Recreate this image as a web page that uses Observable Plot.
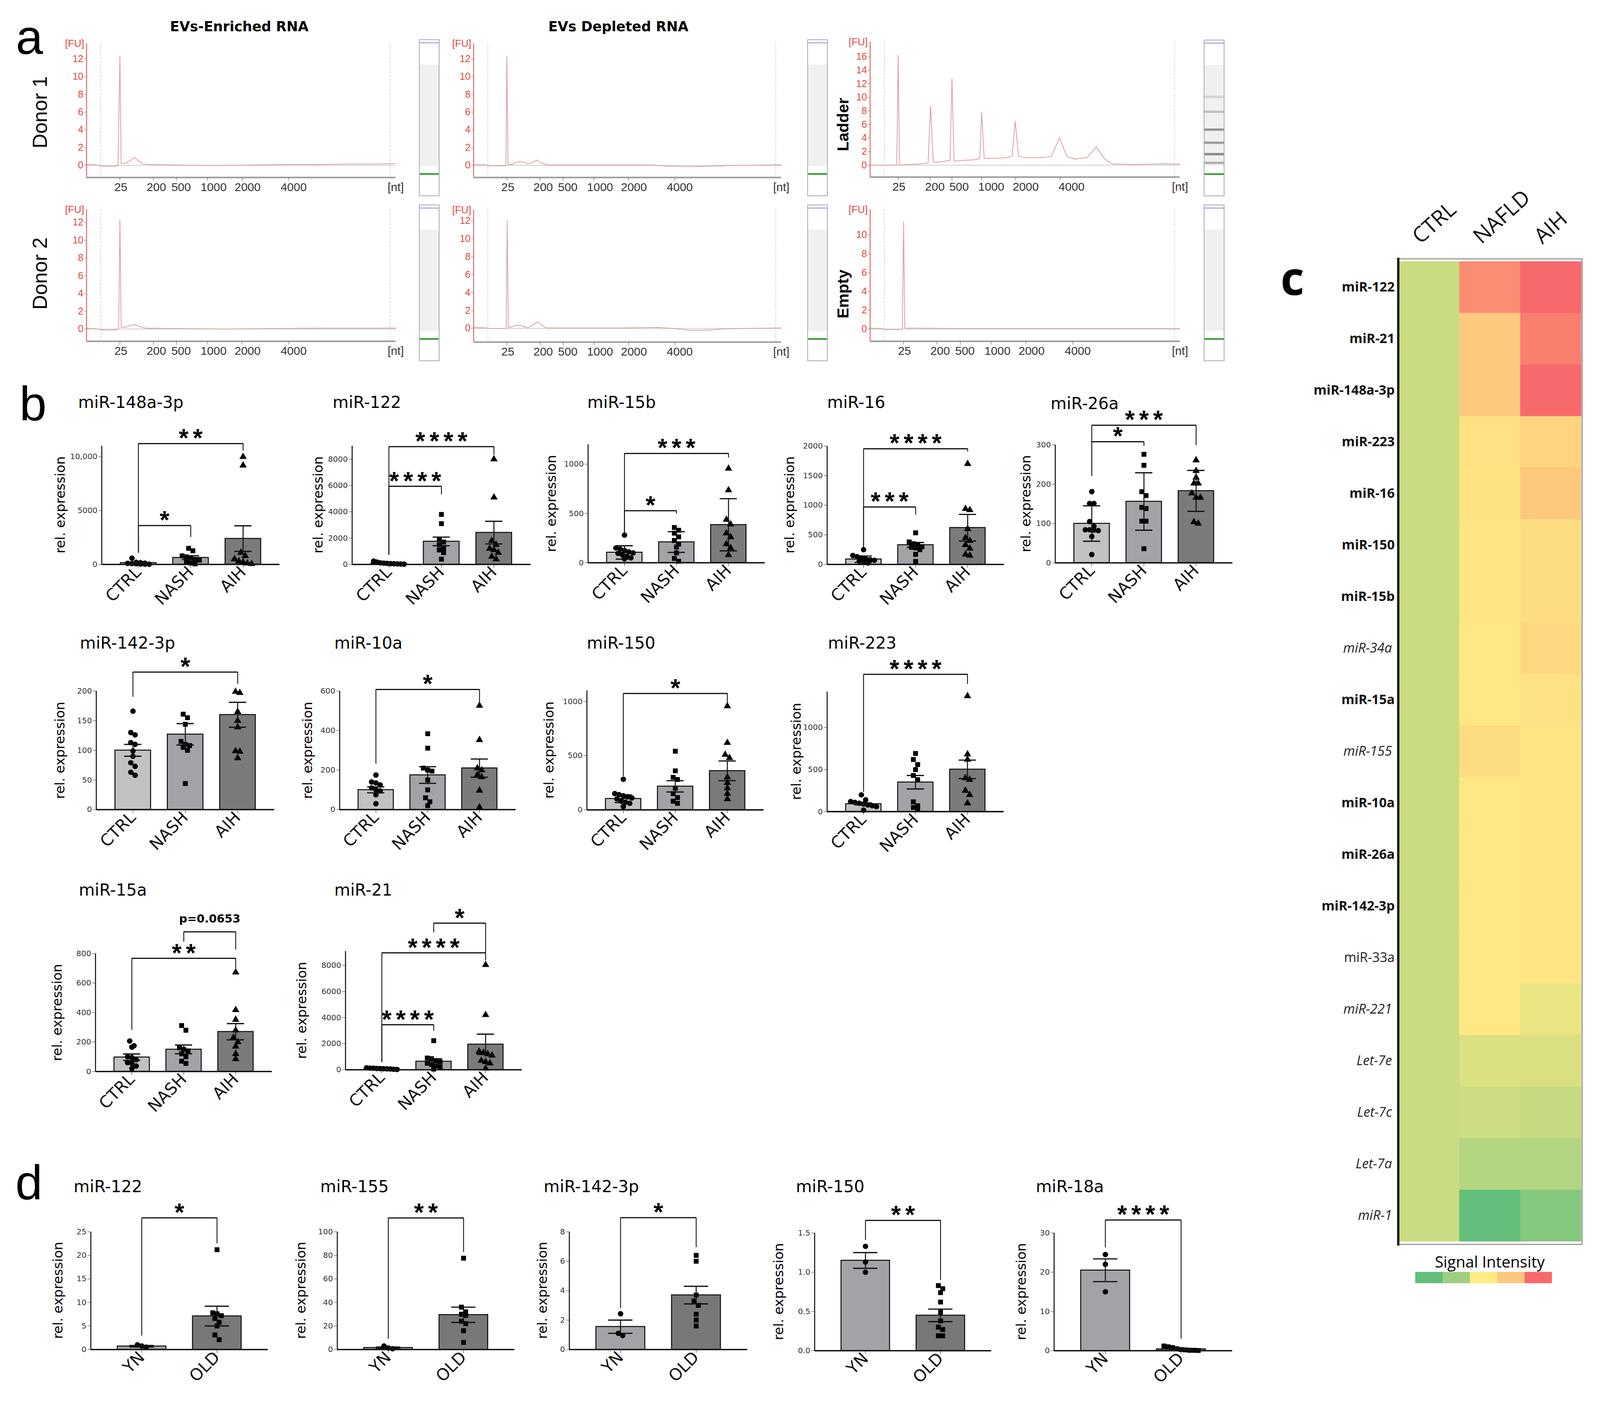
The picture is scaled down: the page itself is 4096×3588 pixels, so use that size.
<!DOCTYPE html>
<html><head><meta charset="utf-8">
<script src="https://cdn.jsdelivr.net/npm/d3@7"></script>
<script src="https://cdn.jsdelivr.net/npm/@observablehq/plot@0.6"></script>
<style>
html,body{margin:0;padding:0;background:#fff;}
#fig{position:relative;width:4096px;height:3588px;overflow:hidden;background:#fff;}
</style></head><body><div id="fig"></div>
<script>
// ===================== DATA: panel a (electropherograms, migration units 0-100 / FU) =====================
const epTickLabels = ["25", "200", "500", "1000", "2000", "4000"];
const epTicksSample = [10.8, 21.6, 29.1, 39.1, 50.3, 65.4];
const epLabelPosSample = [11.1, 22.6, 30.6, 41.1, 52.1, 67.0];
const epTicksLadder = [9.05, 19.5, 26.4, 36.0, 46.8, 61.3];
const epLabelPosLadder = [9.3, 20.9, 28.7, 39.1, 50.2, 65.0];
const epDashes = [4.6, 98.2];
const fuTicks12 = [0, 2, 4, 6, 8, 10, 12];
const fuTicks16 = [0, 2, 4, 6, 8, 10, 12, 14, 16];
const fuTicks10 = [0, 2, 4, 6, 8, 10];
const traceEnrichedD1 = [[0,0.1],[2,0.1],[4,0.0],[5,-0.1],[9,-0.1],[10.2,-0.05],[10.8,12.3],[11.2,0.2],[12.5,0.25],[14,0.5],[15.5,0.9],[16.8,0.5],[18.3,0.15],[21,0.1],[28,0.05],[35,0],[45,0],[55,0.05],[65,0.1],[75,0.1],[85,0.15],[95,0.15],[100,0.2]];
const traceDepletedD1 = [[0,0.1],[4,0.05],[5,-0.05],[10,-0.05],[10.5,0],[10.8,12.3],[11.2,0.1],[12.5,0.1],[13.5,0.3],[15,0.4],[16.5,0.35],[17.5,0.15],[19,0.3],[20.5,0.6],[22,0.25],[24,0.05],[35,0.05],[50,0.05],[58,0.05],[63,-0.1],[70,-0.15],[78,-0.1],[85,0],[100,0.05]];
const traceLadder = [[0,0],[8.6,0],[9.05,16.2],[9.5,0],[12,0.1],[15,0.15],[18.7,0.3],[19.5,8.7],[20.4,0.4],[23,0.5],[25.8,0.7],[26.4,12.8],[27.1,0.6],[30,0.7],[34,0.8],[35.4,1.0],[36,7.8],[36.8,1.0],[40,1.0],[44,1.1],[45.8,1.3],[46.8,6.5],[47.9,1.3],[50,1.1],[55,1.1],[58.5,1.3],[61.1,4.05],[63.5,1.3],[66,0.9],[70,1.1],[73,2.7],[75.5,1.0],[78,0.2],[85,0.1],[90,0.15],[95,0.2],[100,0.15]];
const traceEnrichedD2 = [[0,0.1],[4,0],[5,-0.1],[9.5,-0.1],[10.4,0],[10.8,12.3],[11.2,0.2],[12.5,0.2],[14,0.4],[15.5,0.5],[17,0.3],[19,0.1],[30,0.05],[45,0],[60,0.05],[75,0.1],[90,0.1],[100,0.1]];
const traceDepletedD2 = [[0,0.1],[4,0.05],[5,-0.02],[10.3,-0.02],[10.6,0],[10.9,12.0],[11.3,0.1],[12.5,0.2],[14,0.35],[15.5,0.3],[17.5,0.05],[19,0.35],[20.9,0.72],[22.5,0.3],[23.6,0.05],[35,0.05],[50,0.05],[60,0.1],[66,-0.05],[70,-0.2],[76,-0.2],[82,-0.05],[90,0],[100,0.05]];
const traceEmpty = [[0,0.1],[4,0.05],[5,-0.05],[9.5,-0.05],[10.4,0],[10.8,11.4],[11.2,0.1],[15,0.1],[30,0.05],[50,0.05],[70,0.05],[90,0.05],[100,0.05]];
// gel lanes (position 0-100 top to bottom, intensity 0-1)
const ladderBands = [[36.5,0.22],[46,0.32],[57.5,0.55],[65.9,0.5],[73.2,0.6],[78.8,0.4]];
const laneSmear = [[16, 81]];
const laneMarkerLow = [86];
const laneMarkerTop = [2];

// ===================== DATA: panel b (rel. expression) =====================
const groupsB = ["CTRL", "NASH", "AIH"];
const groupsD = ["YN", "OLD"];

const b148_mean = [150, 630, 2400];
const b148_sem = [60, 170, 1190];
const b148_CTRL = [580, 200, 150, 120, 100, 80, 60, 40, 30, 20];
const b148_NASH = [1500, 1270, 800, 700, 600, 450, 400, 270, 130, 50];
const b148_AIH = [10000, 9200, 1100, 800, 500, 300, 200, 100, 50];
const b148_sig = [[0, 1, 3610, 1070, 2540, "*"], [0, 2, 11230, 1070, 10560, "**"]];
const b148_ticks = [0, 5000, 10000];
const b148_tickLabels = ["0", "5000", "10,000"];

const b122_mean = [80, 1750, 2420];
const b122_sem = [20, 330, 860];
const b122_CTRL = [250, 180, 120, 100, 80, 60, 50, 40, 30, 20];
const b122_NASH = [3800, 3100, 1900, 1700, 1500, 1200, 1100, 900, 400];
const b122_AIH = [8000, 5100, 1800, 1500, 1200, 1100, 900, 600, 400];
const b122_sig = [[0, 1, 5940, 712, 5315, "****"], [0, 2, 8953, 712, 8329, "****"]];
const b122_ticks = [0, 2000, 4000, 6000, 8000];

const b15b_mean = [105, 210, 385];
const b15b_sem = [68, 105, 265];
const b15b_CTRL = [280, 150, 140, 125, 110, 100, 95, 80, 65, 50, 40];
const b15b_NASH = [358, 330, 300, 263, 226, 190, 160, 100, 44, 15];
const b15b_AIH = [956, 737, 438, 390, 300, 260, 190, 150, 80];
const b15b_sig = [[0, 1, 528, 300, 496, "*"], [0, 2, 1109, 300, 1066, "***"]];
const b15b_ticks = [0, 500, 1000];

const b16_mean = [88, 330, 620];
const b16_sem = [54, 40, 225];
const b16_CTRL = [250, 150, 130, 110, 95, 80, 70, 55, 40, 25];
const b16_NASH = [534, 380, 350, 320, 300, 290, 280, 250, 170, 50];
const b16_AIH = [1700, 940, 920, 600, 450, 400, 330, 270, 170, 150];
const b16_sig = [[0, 1, 971, 267, 837, "***"], [0, 2, 1954, 267, 1905, "****"]];
const b16_ticks = [0, 500, 1000, 1500, 2000];

const b26a_mean = [100, 156, 183];
const b26a_sem = [45, 73, 52];
const b26a_CTRL = [181, 151, 151, 105, 93, 84, 84, 83, 82, 67, 21];
const b26a_NASH = [276, 248, 181, 171, 141, 138, 106, 106, 36];
const b26a_AIH = [261, 234, 217, 202, 202, 177, 166, 166, 104, 100];
const b26a_sig = [[0, 1, 308, 221, 297, "*"], [0, 2, 350, 221, 299, "***"]];
const b26a_ticks = [0, 100, 200, 300];

const b142_mean = [100, 127, 160];
const b142_sem = [10, 18, 21];
const b142_CTRL = [166, 130, 126, 113, 110, 99, 90, 79, 73, 63, 58];
const b142_NASH = [161, 155, 144, 115, 110, 108, 105, 100, 44];
const b142_AIH = [199, 197, 165, 150, 139, 99, 98, 87];
const b142_sig = [[0, 2, 232, 190, 212, "*"]];
const b142_ticks = [0, 50, 100, 150, 200];

const b10a_mean = [100, 175, 210];
const b10a_sem = [15, 42, 46];
const b10a_CTRL = [175, 140, 135, 125, 110, 100, 95, 75, 30];
const b10a_NASH = [384, 311, 210, 200, 195, 150, 100, 60, 40, 20];
const b10a_AIH = [526, 353, 210, 200, 175, 165, 97, 12];
const b10a_sig = [[0, 2, 608, 232, 537, "*"]];
const b10a_ticks = [0, 200, 400, 600];

const b150_mean = [103, 217, 360];
const b150_sem = [36, 52, 91];
const b150_CTRL = [282, 150, 140, 130, 120, 110, 100, 80, 70, 60, 30];
const b150_NASH = [541, 360, 300, 280, 200, 150, 113, 80, 60];
const b150_AIH = [957, 619, 509, 480, 300, 250, 200, 150, 100];
const b150_sig = [[0, 2, 1074, 308, 983, "*"]];
const b150_ticks = [0, 500, 1000];

const b223_mean = [92, 350, 503];
const b223_sem = [12, 80, 110];
const b223_CTRL = [200, 140, 120, 110, 100, 90, 80, 70, 60, 17];
const b223_NASH = [692, 620, 560, 500, 430, 380, 117, 70, 50, 30];
const b223_AIH = [1375, 683, 620, 400, 380, 250, 200, 100];
const b223_sig = [[0, 2, 1633, 233, 1517, "****"]];
const b223_ticks = [0, 500, 1000];

const b15a_mean = [97, 150, 270];
const b15a_sem = [22, 30, 55];
const b15a_CTRL = [207, 175, 165, 100, 95, 80, 60, 55, 37, 20];
const b15a_NASH = [312, 280, 160, 150, 140, 120, 100, 70, 55];
const b15a_AIH = [673, 418, 352, 280, 230, 200, 170, 120, 85];
const b15a_sig = [[0, 2, 768, 281, 700, "**"], [1, 2, 948, 880, 826, "p=0.0653"]];
const b15a_ticks = [0, 200, 400, 600, 800];

const b21_mean = [80, 640, 1950];
const b21_sem = [20, 200, 780];
const b21_CTRL = [150, 130, 120, 100, 90, 80, 70, 60, 40, 20];
const b21_NASH = [2228, 900, 850, 700, 600, 500, 400, 300, 200, 50];
const b21_AIH = [8036, 4204, 1400, 1300, 1200, 1100, 700, 600, 500, 100];
const b21_sig = [[0, 1, 3449, 575, 2970, "****"], [0, 2, 8958, 575, 8359, "****"], [1, 2, 11234, 10515, 8958, "*"]];
const b21_ticks = [0, 2000, 4000, 6000, 8000];

// ===================== DATA: panel d (YN vs OLD) =====================
const d122_mean = [0.7, 7.1];
const d122_sem = [0.15, 2.1];
const d122_YN = [1.0, 0.75, 0.5];
const d122_OLD = [21.2, 7.8, 7.6, 7.2, 6.6, 5.8, 5.0, 3.1, 2.1];
const d122_sig = [[0, 1, 27.97, 2.9, 22.5, "*"]];
const d122_ticks = [0, 5, 10, 15, 20, 25];

const d155_mean = [1.5, 29.5];
const d155_sem = [0.6, 6.5];
const d155_YN = [3.0, 1.3, 0.6];
const d155_OLD = [77.6, 36, 32, 30, 29, 24, 22, 16, 6];
const d155_sig = [[0, 1, 111.8, 9, 82.8, "**"]];
const d155_ticks = [0, 20, 40, 60, 80, 100];

const d142_mean = [1.55, 3.7];
const d142_sem = [0.45, 0.6];
const d142_YN = [2.43, 1.1, 0.95];
const d142_OLD = [6.4, 6.0, 3.7, 3.3, 3.0, 2.4, 2.0, 1.6];
const d142_sig = [[0, 1, 8.96, 2.8, 6.94, "*"]];
const d142_ticks = [0, 2, 4, 6, 8];

const d150_mean = [1.15, 0.45];
const d150_sem = [0.1, 0.08];
const d150_YN = [1.33, 1.13, 1.0];
const d150_OLD = [0.83, 0.79, 0.74, 0.62, 0.49, 0.38, 0.30, 0.27, 0.19, 0.19];
const d150_sig = [[0, 1, 1.66, 1.41, 0.9, "**"]];
const d150_ticks = [0, 0.5, 1, 1.5];
const d150_tickLabels = ["0.0", "0.5", "1.0", "1.5"];

const d18a_mean = [20.5, 0.4];
const d18a_sem = [2.9, 0.15];
const d18a_YN = [24.5, 22, 15];
const d18a_OLD = [1.2, 1.0, 0.8, 0.5, 0.3, 0.2, 0.1, 0.1, 0.05];
const d18a_sig = [[0, 1, 33.3, 26.3, 3.0, "****"]];
const d18a_ticks = [0, 10, 20, 30];

// ===================== DATA: panel c (heatmap, signal intensity 0..1) =====================
const hmRows = ["miR-122","miR-21","miR-148a-3p","miR-223","miR-16","miR-150","miR-15b","miR-34a","miR-15a","miR-155","miR-10a","miR-26a","miR-142-3p","miR-33a","miR-221","Let-7e","Let-7c","Let-7a","miR-1"];
const hmCols = ["CTRL", "NAFLD", "AIH"];
const hmCTRL = [0.33,0.33,0.33,0.33,0.33,0.33,0.33,0.33,0.33,0.33,0.33,0.33,0.33,0.33,0.33,0.33,0.33,0.33,0.33];
const hmNAFLD = [0.86,0.63,0.63,0.54,0.535,0.523,0.523,0.51,0.51,0.558,0.51,0.51,0.51,0.51,0.51,0.385,0.34,0.263,0.0];
const hmAIH = [1.0,0.915,1.0,0.59,0.63,0.554,0.554,0.575,0.54,0.52,0.52,0.52,0.52,0.52,0.43,0.38,0.315,0.26,0.11];
const hmLegendSteps = [0, 0.19, 0.5, 0.64, 1];

// ===================== STYLE / LAYOUT (reference px at 1568 wide) =====================
const S = 4096 / 1568;
const GP_FONT = "'DejaVu Sans', Verdana, sans-serif";
const AR_FONT = "'Liberation Sans', Arial, Helvetica, sans-serif";
const OS_FONT = "'Open Sans', 'Liberation Sans', sans-serif";
const hmBold = ["miR-122","miR-21","miR-148a-3p","miR-223","miR-16","miR-150","miR-15b","miR-15a","miR-10a","miR-26a","miR-142-3p"];
const hmItalic = ["miR-34a","miR-155","miR-221","Let-7e","Let-7c","Let-7a","miR-1"];
const hmPlain = ["miR-33a"];

const fig = document.getElementById("fig");
function put(node, left, top) {
  node.style.position = "absolute";
  node.style.left = left + "px";
  node.style.top = top + "px";
  node.style.maxWidth = "none";
  node.style.background = "transparent";
  node.style.overflow = "visible";
  fig.appendChild(node);
}
const overlay = d3.create("svg").attr("width", 4096).attr("height", 3588)
  .style("position", "absolute").style("left", "0px").style("top", "0px").style("overflow", "visible");
function txt(x, y, s, o = {}) {
  const t = overlay.append("text").attr("x", x * S).attr("y", y * S).text(s)
    .attr("font-family", o.family || AR_FONT).attr("font-size", o.size || 30)
    .attr("font-weight", o.weight || "normal").attr("font-style", o.style || "normal")
    .attr("text-anchor", o.anchor || "start").attr("fill", o.fill || "#000");
  if (o.rotate) t.attr("transform", `rotate(${o.rotate},${x * S},${y * S})`);
  if (o.baseline) t.attr("dominant-baseline", o.baseline);
  return t;
}

// ---------- electropherograms ----------
function epChart(c) {
  const mL = 70, mR = 45, mT = 50, mB = 75;
  const W = (c.R - c.L) * S, H = (c.xb - c.yt) * S;
  const lab = new Map(c.labelPos.map((t, k) => [t, epTickLabels[k]]));
  const p = Plot.plot({
    width: W + mL + mR, height: H + mT + mB,
    marginLeft: mL, marginRight: mR, marginTop: mT, marginBottom: mB,
    style: {background: "transparent", fontFamily: AR_FONT, overflow: "visible"},
    x: {domain: [0, 100]}, y: {domain: [c.fuMin, c.fuMax]},
    marks: [
      Plot.ruleX(epDashes, {stroke: "#c8c8c8", strokeWidth: 1.5, strokeDasharray: "5,4"}),
      Plot.ruleY([0], {stroke: "#cdcdcd", strokeWidth: 2}),
      Plot.line(c.trace, {stroke: "#dca0a0", strokeWidth: 2}),
      Plot.ruleX([0], {stroke: "#e04848", strokeWidth: 2}),
      Plot.ruleY([c.fuMin], {stroke: "#9c9c9c", strokeWidth: 4}),
      Plot.axisY({ticks: c.yTicks, tickSize: 6, tickPadding: 2, fontSize: 25, color: "#e04848", label: null}),
      Plot.axisX({ticks: c.xTicks, tickFormat: () => "", tickSize: 9, color: "#555", label: null}),
      Plot.axisX({ticks: c.labelPos, tickFormat: d => lab.get(d), tickSize: 0, tickPadding: 13, fontSize: 30, color: "#333", label: null}),
      Plot.text(["[FU]"], {text: d => d, frameAnchor: "top-left", textAnchor: "end", lineAnchor: "middle", dx: -6, fontSize: 26, fill: "#e04848"}),
      Plot.text(["[nt]"], {text: d => d, frameAnchor: "bottom-right", textAnchor: "middle", lineAnchor: "top", dy: 13, fontSize: 30, fill: "#333"})
    ]
  });
  put(p, c.L * S - mL, c.yt * S - mT);
}
function laneChart(c) {
  const p = Plot.plot({
    width: c.w * S, height: c.h * S, margin: 0,
    style: {background: "transparent", overflow: "visible"},
    x: {domain: [0, 1], axis: null}, y: {domain: [0, 100], reverse: true, axis: null},
    color: {type: "linear", domain: [0, 1], range: ["#ffffff", "#3a3a3a"]},
    marks: [
      Plot.rect(laneSmear, {x1: 0, x2: 1, y1: d => d[0], y2: d => d[1], fill: "#f0f0f0"}),
      Plot.ruleY(c.bands, {y: d => d[0], stroke: d => d[1], strokeWidth: 6}),
      Plot.ruleY(laneMarkerLow, {stroke: "#3c9e3c", strokeWidth: 4.5}),
      Plot.ruleY(laneMarkerTop, {stroke: "#a9b3e3", strokeWidth: 3}),
      Plot.frame({stroke: "#a8a8a8", strokeWidth: 2})
    ]
  });
  put(p, c.x * S, c.y * S);
}

const epCharts = [
  {trace: traceEnrichedD1, xTicks: epTicksSample, labelPos: epLabelPosSample, yTicks: fuTicks12, L: 84.5, R: 387.5, yt: 42.4, xb: 173.6, fuMin: -1.37, fuMax: 13.74},
  {trace: traceDepletedD1, xTicks: epTicksSample, labelPos: epLabelPosSample, yTicks: fuTicks12, L: 463.9, R: 765.4, yt: 42.4, xb: 173.6, fuMin: -1.37, fuMax: 13.74},
  {trace: traceLadder, xTicks: epTicksLadder, labelPos: epLabelPosLadder, yTicks: fuTicks16, L: 852.6, R: 1156.3, yt: 41, xb: 173.4, fuMin: -1.77, fuMax: 18.18},
  {trace: traceEnrichedD2, xTicks: epTicksSample, labelPos: epLabelPosSample, yTicks: fuTicks12, L: 84.5, R: 387.5, yt: 205, xb: 334, fuMin: -1.38, fuMax: 13.45},
  {trace: traceDepletedD2, xTicks: epTicksSample, labelPos: epLabelPosSample, yTicks: fuTicks12, L: 463.9, R: 765.4, yt: 205.4, xb: 334.8, fuMin: -1.53, fuMax: 13.2},
  {trace: traceEmpty, xTicks: epTicksSample, labelPos: epLabelPosSample, yTicks: fuTicks10, L: 852.6, R: 1156.3, yt: 205, xb: 334, fuMin: -1.3, fuMax: 12.7}
];
epCharts.forEach(epChart);
[
  {x: 410.9, y: 38.7, w: 19.4, h: 153, bands: []},
  {x: 791.3, y: 38.7, w: 19.4, h: 153, bands: []},
  {x: 1180, y: 38.9, w: 19.6, h: 152.7, bands: ladderBands},
  {x: 410.9, y: 200.6, w: 19.4, h: 152.7, bands: []},
  {x: 791.3, y: 200.6, w: 19.4, h: 152.7, bands: []},
  {x: 1180, y: 200.6, w: 19.6, h: 152.7, bands: []}
].forEach(laneChart);

// ---------- bar charts ----------
// horizontal spreading of points that share a vertical level (returns offsets in px)
function spread(vals, yPx, gap, spacing, maxWidth) {
  const order = vals.map((v, k) => k).sort((a, b) => vals[b] - vals[a]);
  const rows = [];
  for (const k of order) {
    const last = rows[rows.length - 1];
    if (last && Math.abs(yPx(vals[k]) - yPx(vals[last[0]])) <= gap) last.push(k);
    else rows.push([k]);
  }
  const off = vals.map(() => 0);
  for (const r of rows) {
    const sp = r.length > 1 ? Math.min(spacing, maxWidth / (r.length - 1)) : 0;
    r.forEach((k, j) => { off[k] = (j - (r.length - 1) / 2) * sp; });
  }
  return off;
}
function barChart(c) {
  const n = c.cats.length;
  const half = (1 - c.pi) / 2;
  const x0 = -(c.po + half), x1 = n - 1 + c.po + half;
  const mL = 150, mR = 40, mT = 200, mB = 160;
  const W = (c.R - c.L) * S, H = (c.base - c.top) * S;
  const stepPx = W / (x1 - x0);
  const yPx = d3.scaleLinear([0, c.yMax], [H, 0]);
  const groups = c.cats.map((cat, i) => ({i, cat, mean: c.means[i], sem: c.sems[i]}));
  const dots = [];
  c.pts.forEach((vals, i) => {
    const off = spread(vals, yPx, 13, 11, c.spreadMax);
    vals.forEach((v, k) => dots.push({x: i + off[k] / stepPx, v, cat: c.cats[i]}));
  });
  const capHalf = c.cap / 2 / stepPx;
  const br = c.sig.map(([a, b, lvl, la, lb, lab]) => ({a, b, lvl, la, lb, lab}));
  const starStep = 36 / stepPx;
  const stars = [];
  br.filter(d => d.lab.startsWith("*")).forEach(d => {
    const m = d.lab.length;
    for (let k = 0; k < m; k++) stars.push({x: (d.a + d.b) / 2 + (k - (m - 1) / 2) * starStep, y: d.lvl, ch: "*"});
  });
  const pLabels = br.filter(d => !d.lab.startsWith("*"));
  const labels = c.yTickLabels || c.yTicks.map(String);
  const tickLab = new Map(c.yTicks.map((t, k) => [t, labels[k]]));
  const p = Plot.plot({
    width: W + mL + mR, height: H + mT + mB,
    marginLeft: mL, marginRight: mR, marginTop: mT, marginBottom: mB,
    style: {background: "transparent", fontFamily: GP_FONT, overflow: "visible"},
    x: {domain: [x0, x1]},
    y: {domain: [0, c.yMax]},
    color: {domain: c.cats, range: c.fills},
    symbol: {domain: c.cats, range: c.shapes},
    marks: [
      Plot.rect(groups, {x1: d => d.i - half, x2: d => d.i + half, y1: 0, y2: "mean", fill: "cat", stroke: "#111", strokeWidth: 2.6}),
      Plot.dot(dots, {x: "x", y: "v", symbol: "cat", r: 7, fill: "#000", stroke: null}),
      Plot.ruleX(groups, {x: "i", y1: d => d.mean - d.sem, y2: d => d.mean + d.sem, stroke: "#111", strokeWidth: 2.6}),
      Plot.ruleY(groups, {y: d => d.mean + d.sem, x1: d => d.i - capHalf, x2: d => d.i + capHalf, stroke: "#111", strokeWidth: 3.2}),
      Plot.ruleY(groups, {y: d => d.mean - d.sem, x1: d => d.i - capHalf, x2: d => d.i + capHalf, stroke: "#111", strokeWidth: 3.2}),
      Plot.ruleX([x0], {stroke: "#111", strokeWidth: 2.6}),
      Plot.ruleY([0], {stroke: "#111", strokeWidth: 3.6}),
      Plot.link(br, {x1: "a", x2: "b", y1: "lvl", y2: "lvl", stroke: "#111", strokeWidth: 3}),
      Plot.ruleX(br, {x: "a", y1: "lvl", y2: "la", stroke: "#111", strokeWidth: 2.2}),
      Plot.ruleX(br, {x: "b", y1: "lvl", y2: "lb", stroke: "#111", strokeWidth: 2.2}),
      Plot.text(stars, {x: "x", y: "y", text: "ch", lineAnchor: "bottom", dy: 8, fontSize: 64, fontWeight: "bold", fontFamily: AR_FONT, fill: "#000"}),
      Plot.text(pLabels, {x: d => (d.a + d.b) / 2, y: "lvl", text: "lab", lineAnchor: "bottom", dy: -24, fontSize: 29, fontWeight: "bold", fill: "#000"}),
      Plot.axisY({ticks: c.yTicks, tickFormat: d => tickLab.get(d), tickSize: 8, tickPadding: 3, fontSize: 20, color: "#333", label: null}),
      Plot.axisX({ticks: c.cats.map((d, i) => i), tickFormat: i => c.cats[i], tickRotate: -45, tickSize: 9, tickPadding: 4, fontSize: 42, color: "#111", label: null})
    ]
  });
  put(p, c.L * S - mL, c.top * S - mT);
  txt(c.titleX, c.titleY, c.title, {size: 42, family: GP_FONT});
  txt(c.labX, (c.base + c.top) / 2, "rel. expression", {size: 34, family: GP_FONT, rotate: -90, anchor: "middle", baseline: "central"});
}
const B = {cats: groupsB, fills: ["#c2c2c2", "#a3a3a7", "#7b7b7b"], shapes: ["circle", "square", "triangle"], pi: 0.32, po: 0.36, cap: 44, spreadMax: 78};
const D = {cats: groupsD, fills: ["#a3a3a7", "#787878"], shapes: ["circle", "square"], pi: 0.354, po: 0.354, cap: 62, spreadMax: 110};
[
  {...B, title: "miR-148a-3p", means: b148_mean, sems: b148_sem, pts: [b148_CTRL, b148_NASH, b148_AIH], sig: b148_sig, yMax: 11000, yTicks: b148_ticks, yTickLabels: b148_tickLabels, L: 99.6, R: 274, base: 552.6, top: 436.6, titleX: 76.6, titleY: 399.5, labX: 59},
  {...B, title: "miR-122", means: b122_mean, sems: b122_sem, pts: [b122_CTRL, b122_NASH, b122_AIH], sig: b122_sig, yMax: 9000, yTicks: b122_ticks, L: 345, R: 520, base: 552.6, top: 436.6, titleX: 326, titleY: 399.5, labX: 311.6},
  {...B, title: "miR-15b", means: b15b_mean, sems: b15b_sem, pts: [b15b_CTRL, b15b_NASH, b15b_AIH], sig: b15b_sig, yMax: 1200, yTicks: b15b_ticks, L: 576.2, R: 749.5, base: 551.2, top: 435.3, titleX: 575.6, titleY: 399.5, labX: 540},
  {...B, title: "miR-16", means: b16_mean, sems: b16_sem, pts: [b16_CTRL, b16_NASH, b16_AIH], sig: b16_sig, yMax: 2000, yTicks: b16_ticks, L: 810.6, R: 984, base: 552.6, top: 436.6, titleX: 810.6, titleY: 399.5, labX: 773.8},
  {...B, title: "miR-26a", means: b26a_mean, sems: b26a_sem, pts: [b26a_CTRL, b26a_NASH, b26a_AIH], sig: b26a_sig, yMax: 300, yTicks: b26a_ticks, L: 1034, R: 1207.8, base: 551.2, top: 435.6, titleX: 1029.6, titleY: 400.9, labX: 1005.4},
  {...B, title: "miR-142-3p", means: b142_mean, sems: b142_sem, pts: [b142_CTRL, b142_NASH, b142_AIH], sig: b142_sig, yMax: 200, yTicks: b142_ticks, L: 94.3, R: 268.8, base: 793.2, top: 677, titleX: 78.3, titleY: 635.4, labX: 58.5},
  {...B, title: "miR-10a", means: b10a_mean, sems: b10a_sem, pts: [b10a_CTRL, b10a_NASH, b10a_AIH], sig: b10a_sig, yMax: 600, yTicks: b10a_ticks, L: 332.6, R: 505.2, base: 793.2, top: 677, titleX: 327.6, titleY: 635.4, labX: 301.3},
  {...B, title: "miR-150", means: b150_mean, sems: b150_sem, pts: [b150_CTRL, b150_NASH, b150_AIH], sig: b150_sig, yMax: 1100, yTicks: b150_ticks, L: 575.1, R: 748.4, base: 793.2, top: 676.4, titleX: 575.1, titleY: 635.4, labX: 538},
  {...B, title: "miR-223", means: b223_mean, sems: b223_sem, pts: [b223_CTRL, b223_NASH, b223_AIH], sig: b223_sig, yMax: 1425, yTicks: b223_ticks, L: 810.3, R: 983.5, base: 794.8, top: 677.4, titleX: 811.4, titleY: 635.4, labX: 780},
  {...B, title: "miR-15a", means: b15a_mean, sems: b15a_sem, pts: [b15a_CTRL, b15a_NASH, b15a_AIH], sig: b15a_sig, yMax: 800, yTicks: b15a_ticks, L: 93.4, R: 266.4, base: 1049.7, top: 934.2, titleX: 77.2, titleY: 877.5, labX: 56},
  {...B, title: "miR-21", means: b21_mean, sems: b21_sem, pts: [b21_CTRL, b21_NASH, b21_AIH], sig: b21_sig, yMax: 9080, yTicks: b21_ticks, L: 338.3, R: 511.2, base: 1047.9, top: 931.8, titleX: 327.6, titleY: 877.5, labX: 295.4},
  {...D, title: "miR-122", means: d122_mean, sems: d122_sem, pts: [d122_YN, d122_OLD], sig: d122_sig, yMax: 25, yTicks: d122_ticks, L: 89, R: 262.6, base: 1321.8, top: 1206.5, titleX: 72.2, titleY: 1168, labX: 56.7},
  {...D, title: "miR-155", means: d155_mean, sems: d155_sem, pts: [d155_YN, d155_OLD], sig: d155_sig, yMax: 100, yTicks: d155_ticks, L: 330.5, R: 504.2, base: 1321.8, top: 1206.5, titleX: 313.8, titleY: 1168, labX: 294.6},
  {...D, title: "miR-142-3p", means: d142_mean, sems: d142_sem, pts: [d142_YN, d142_OLD], sig: d142_sig, yMax: 8, yTicks: d142_ticks, L: 557.7, R: 732.2, base: 1321.8, top: 1206.5, titleX: 532.8, titleY: 1168, labX: 531.3},
  {...D, title: "miR-150", means: d150_mean, sems: d150_sem, pts: [d150_YN, d150_OLD], sig: d150_sig, yMax: 1.5, yTicks: d150_ticks, yTickLabels: d150_tickLabels, L: 798, R: 971.2, base: 1323, top: 1207.7, titleX: 780, titleY: 1168, labX: 763},
  {...D, title: "miR-18a", means: d18a_mean, sems: d18a_sem, pts: [d18a_YN, d18a_OLD], sig: d18a_sig, yMax: 30, yTicks: d18a_ticks, L: 1032.7, R: 1207.4, base: 1323, top: 1207.7, titleX: 1015.1, titleY: 1168, labX: 1000.5}
].forEach(barChart);

// ---------- heatmap ----------
(function heatmap() {
  const mL = 280, mR = 12, mT = 150, mB = 12;
  const W = (1550.2 - 1370) * S, H = (1218.8 - 253.3) * S;
  const cells = [];
  hmRows.forEach((r, k) => {
    cells.push({row: r, col: hmCols[0], v: hmCTRL[k]}, {row: r, col: hmCols[1], v: hmNAFLD[k]}, {row: r, col: hmCols[2], v: hmAIH[k]});
  });
  const color = {type: "linear", domain: [0, 0.5, 1], range: ["#63be7b", "#ffeb84", "#f8696b"], interpolate: "rgb"};
  const p = Plot.plot({
    width: W + mL + mR, height: H + mT + mB,
    marginLeft: mL, marginRight: mR, marginTop: mT, marginBottom: mB,
    style: {background: "transparent", fontFamily: OS_FONT, overflow: "visible"},
    x: {domain: hmCols, padding: 0, axis: null},
    y: {domain: hmRows, padding: 0, axis: null},
    color,
    marks: [
      Plot.cell(cells, {x: "col", y: "row", fill: "v", stroke: "v", strokeWidth: 0.6}),
      Plot.frame({stroke: "#707070", strokeWidth: 2}),
      Plot.frame({anchor: "left", stroke: "#1a1a1a", strokeWidth: 6}),
      Plot.text(hmRows.filter(r => hmBold.includes(r)), {y: d => d, text: d => d, frameAnchor: "left", textAnchor: "end", dx: -9, fontSize: 34, fontWeight: "bold", fill: "#111"}),
      Plot.text(hmRows.filter(r => hmItalic.includes(r)), {y: d => d, text: d => d, frameAnchor: "left", textAnchor: "end", dx: -16, fontSize: 34, fontStyle: "italic", fill: "#222"}),
      Plot.text(hmRows.filter(r => hmPlain.includes(r)), {y: d => d, text: d => d, frameAnchor: "left", textAnchor: "end", dx: -9, fontSize: 34, fill: "#222"}),
      Plot.text(hmCols, {x: d => d, text: d => d, frameAnchor: "top", rotate: -42, textAnchor: "start", lineAnchor: "bottom", dx: -22, dy: -36, fontSize: 55, fill: "#111"})
    ]
  });
  put(p, 1370 * S - mL, 253.3 * S - mT);
  const lg = Plot.plot({
    width: (1521.7 - 1386) * S, height: 11.2 * S, margin: 0,
    style: {background: "transparent", overflow: "visible"},
    x: {domain: hmLegendSteps, padding: 0, axis: null},
    y: {domain: ["legend"], padding: 0, axis: null},
    color,
    marks: [Plot.cell(hmLegendSteps, {x: d => d, y: () => "legend", fill: d => d})]
  });
  put(lg, 1386 * S, 1246 * S);
})();

// ---------- free annotation text ----------
txt(15.5, 53, "a", {size: 125});
txt(19, 412, "b", {size: 125});
txt(1255, 289, "c", {size: 118, weight: "bold", family: OS_FONT});
txt(15, 1175, "d", {size: 125});
txt(234.5, 30.5, "EVs-Enriched RNA", {size: 35, weight: "bold", anchor: "middle", family: GP_FONT});
txt(606, 30.5, "EVs Depleted RNA", {size: 35, weight: "bold", anchor: "middle", family: GP_FONT});
txt(39, 110, "Donor 1", {size: 52, rotate: -90, anchor: "middle", baseline: "central"});
txt(39, 268, "Donor 2", {size: 52, rotate: -90, anchor: "middle", baseline: "central"});
txt(826, 122, "Ladder", {size: 41, weight: "bold", rotate: -90, anchor: "middle", baseline: "central"});
txt(826, 288, "Empty", {size: 41, weight: "bold", rotate: -90, anchor: "middle", baseline: "central"});
txt(1460, 1242, "Signal Intensity", {size: 40, anchor: "middle", family: OS_FONT});
fig.appendChild(overlay.node());
</script></body></html>
